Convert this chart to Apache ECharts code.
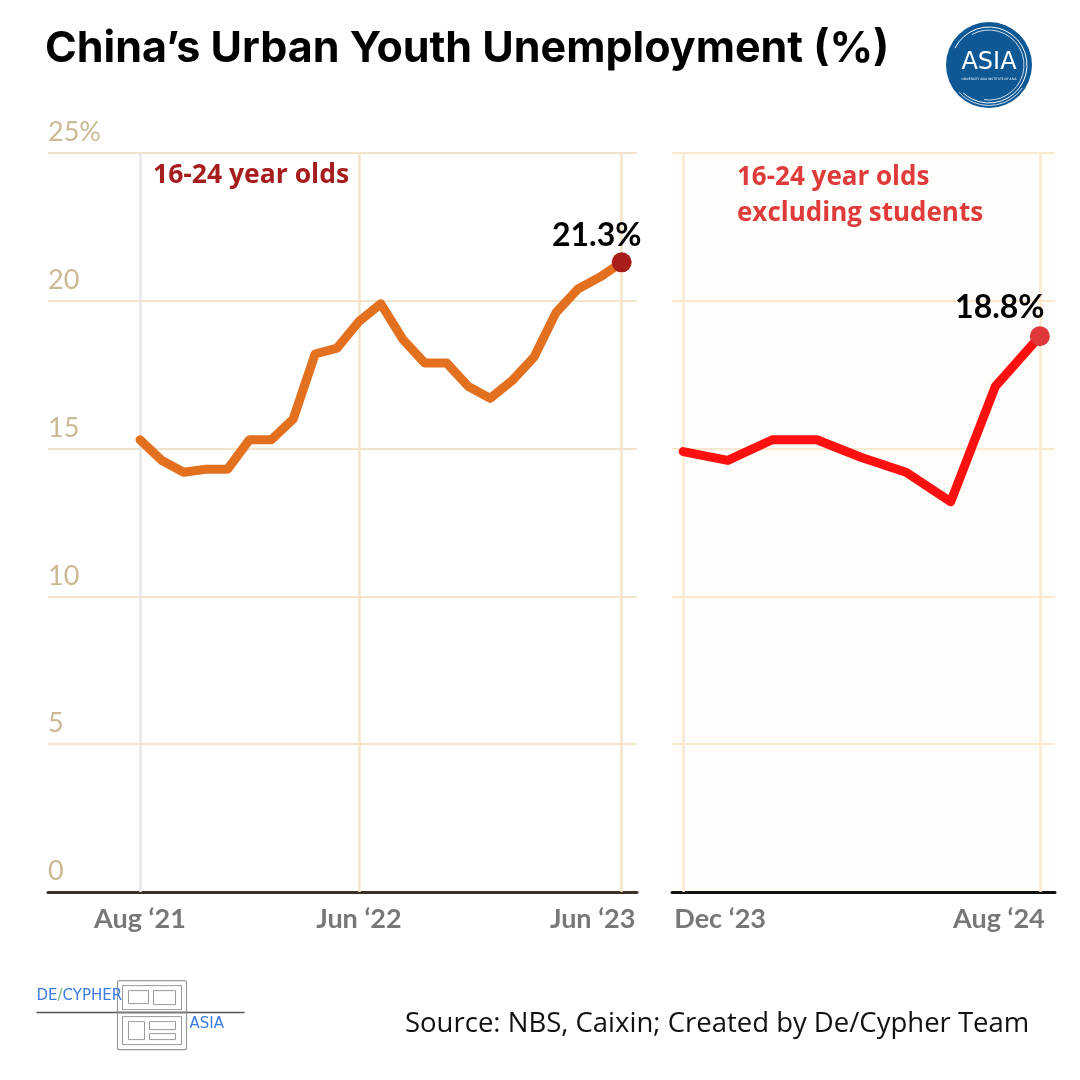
<!DOCTYPE html>
<html>
<head>
<meta charset="utf-8">
<script src="https://cdn.jsdelivr.net/npm/echarts@6/dist/echarts.min.js"></script>
<style>
    html, body { margin: 0; padding: 0; background: #fff; }
    #chart { width: 1080px; height: 1080px; }
</style>
</head>
<body>
<div id="chart"></div>
<script>
// 16-24 year olds, Aug '21 - Jun '23
var leftMonths = [
    'Aug ‘21', 'Sep ‘21', 'Oct ‘21', 'Nov ‘21', 'Dec ‘21',
    'Jan ‘22', 'Feb ‘22', 'Mar ‘22', 'Apr ‘22', 'May ‘22', 'Jun ‘22',
    'Jul ‘22', 'Aug ‘22', 'Sep ‘22', 'Oct ‘22', 'Nov ‘22', 'Dec ‘22',
    'Jan ‘23', 'Feb ‘23', 'Mar ‘23', 'Apr ‘23', 'May ‘23', 'Jun ‘23'
];
var leftValues = [
    15.3, 14.6, 14.2, 14.3, 14.3,
    15.3, 15.3, 16.0, 18.2, 18.4, 19.3,
    19.9, 18.7, 17.9, 17.9, 17.1, 16.7,
    17.3, 18.1, 19.6, 20.4, 20.8, 21.3
];
var leftTickMonths = ['Aug ‘21', 'Jun ‘22', 'Jun ‘23'];

// 16-24 year olds excluding students, Dec '23 - Aug '24
var rightMonths = [
    'Dec ‘23', 'Jan ‘24', 'Feb ‘24', 'Mar ‘24', 'Apr ‘24',
    'May ‘24', 'Jun ‘24', 'Jul ‘24', 'Aug ‘24'
];
var rightValues = [14.9, 14.6, 15.3, 15.3, 14.7, 14.2, 13.2, 17.1, 18.8];
var rightTickMonths = ['Dec ‘23', 'Aug ‘24'];

var yTicks = [0, 5, 10, 15, 20, 25];

var chart = echarts.init(document.getElementById('chart'));

var tickFont = 'Lato';
var labelRich = {
    c: { fontFamily: tickFont, fontSize: 27, fontWeight: 'bold', color: '#777777' },
    r58: { fontFamily: tickFont, fontSize: 27, fontWeight: 'bold', color: '#777777', padding: [0, 58, 0, 0] },
    l74: { fontFamily: tickFont, fontSize: 27, fontWeight: 'bold', color: '#777777', padding: [0, 0, 0, 74] },
    r82: { fontFamily: tickFont, fontSize: 27, fontWeight: 'bold', color: '#777777', padding: [0, 82, 0, 0] }
};
var labelShift = {
    'Jun ‘23': 'r58',
    'Dec ‘23': 'l74',
    'Aug ‘24': 'r82'
};

function tickLabel(months) {
    return function (v) {
        var m = months[Math.round(v)];
        return '{' + (labelShift[m] || 'c') + '|' + m + '}';
    };
}

function toPoints(values) {
    return values.map(function (v, i) {
        return [i, v];
    });
}

function lastPoint(values) {
    return [[values.length - 1, values[values.length - 1]]];
}

function getXAxis(gridIndex, months, ticks, min, max, axisColor) {
    return {
        type: 'value',
        gridIndex: gridIndex,
        min: min,
        max: max,
        axisLine: {
            show: true,
            onZero: false,
            lineStyle: { color: axisColor, width: 3 }
        },
        axisTick: { show: false },
        splitLine: { show: false },
        axisLabel: {
            show: true,
            customValues: ticks.map(function (m) { return months.indexOf(m); }),
            margin: 14,
            formatter: tickLabel(months),
            rich: labelRich
        }
    };
}

function getYAxis(gridIndex, showLabel, gridColor) {
    return {
        type: 'value',
        gridIndex: gridIndex,
        min: yTicks[0],
        max: yTicks[yTicks.length - 1],
        interval: 5,
        axisLine: { show: false },
        axisTick: { show: false },
        splitLine: {
            show: true,
            lineStyle: { color: gridColor, width: 2 }
        },
        axisLabel: {
            show: showLabel,
            inside: true,
            margin: 0,
            verticalAlign: 'bottom',
            padding: [0, 0, 7, 0],
            color: '#cbb995',
            fontSize: 27,
            fontFamily: 'Lato',
            formatter: function (v) {
                return v === 25 ? '25%' : String(v);
            }
        }
    };
}

function monthLines(months, ticks, colors, axisIndex) {
    return {
        type: 'line',
        xAxisIndex: axisIndex,
        yAxisIndex: axisIndex,
        data: [],
        z: 1,
        markLine: {
            silent: true,
            symbol: 'none',
            animation: false,
            label: { show: false },
            data: ticks.map(function (m, i) {
                return {
                    xAxis: months.indexOf(m),
                    lineStyle: { color: colors[i], width: 2.5, type: 'solid' }
                };
            })
        }
    };
}

var option = {
    backgroundColor: '#ffffff',
    animation: false,
    grid: [
        { left: 48, right: 443, top: 153, bottom: 188 },
        {
            left: 672, right: 25, top: 153, bottom: 188,
            show: true, backgroundColor: '#fffdf9', borderWidth: 0
        }
    ],
    xAxis: [
        getXAxis(0, leftMonths, leftTickMonths, -4.2, 22.7, '#3b3125'),
        getXAxis(1, rightMonths, rightTickMonths, -0.25, 8.34, '#111111')
    ],
    yAxis: [
        getYAxis(0, true, '#f2e4ca'),
        getYAxis(1, false, '#fbe9cf')
    ],
    series: [
        monthLines(leftMonths, leftTickMonths, ['#e6e6e6', '#f2e4ca', '#f2e4ca'], 0),
        monthLines(rightMonths, rightTickMonths, ['#fbe9cf', '#fbe9cf'], 1),
        {
            name: '16-24 year olds',
            type: 'line',
            xAxisIndex: 0,
            yAxisIndex: 0,
            data: toPoints(leftValues),
            showSymbol: false,
            z: 5,
            lineStyle: { color: '#e2701f', width: 9, cap: 'round', join: 'round' }
        },
        {
            type: 'scatter',
            xAxisIndex: 0,
            yAxisIndex: 0,
            data: lastPoint(leftValues),
            symbolSize: 20,
            z: 6,
            itemStyle: { color: '#a81c1a', opacity: 1 },
            label: {
                show: true,
                position: 'top',
                distance: 1,
                offset: [-25, 0],
                formatter: function (p) { return p.value[1] + '%'; },
                color: '#000000',
                fontSize: 32,
                fontWeight: 'bold',
                fontFamily: 'Lato'
            }
        },
        {
            name: '16-24 year olds excluding students',
            type: 'line',
            xAxisIndex: 1,
            yAxisIndex: 1,
            data: toPoints(rightValues),
            showSymbol: false,
            z: 5,
            lineStyle: { color: '#ff1010', width: 9, cap: 'round', join: 'round' }
        },
        {
            type: 'scatter',
            xAxisIndex: 1,
            yAxisIndex: 1,
            data: lastPoint(rightValues),
            symbolSize: 20,
            z: 6,
            itemStyle: { color: '#e0383a', opacity: 1 },
            label: {
                show: true,
                position: 'top',
                distance: 3,
                offset: [-40, 0],
                formatter: function (p) { return p.value[1] + '%'; },
                color: '#000000',
                fontSize: 32,
                fontWeight: 'bold',
                fontFamily: 'Lato'
            }
        }
    ],
    graphic: [
        {
            type: 'text',
            left: 45,
            top: 28,
            style: {
                text: 'China’s Urban Youth Unemployment (%)',
                fill: '#000000',
                font: 'bold 43px Inter'
            }
        },
        {
            type: 'text',
            left: 153,
            top: 162,
            style: {
                text: '16-24 year olds',
                fill: '#a61d1d',
                font: 'bold 26.5px "Open Sans"'
            }
        },
        {
            type: 'text',
            left: 737,
            top: 160,
            style: {
                text: '16-24 year olds\nexcluding students',
                fill: '#e03b3b',
                font: 'bold 26px "Open Sans"',
                lineHeight: 36
            }
        },
        {
            type: 'text',
            left: 405,
            top: 1010,
            style: {
                text: 'Source: NBS, Caixin; Created by De/Cypher Team',
                fill: '#111111',
                font: '27.5px "Open Sans"'
            }
        },
        // ASIA badge, top right
        {
            type: 'group',
            left: 946,
            top: 22,
            children: [
                { type: 'circle', shape: { cx: 44, cy: 44, r: 43 }, style: { fill: '#0d5895' } },
                { type: 'arc', shape: { cx: 44, cy: 44, r: 38, startAngle: 3.6, endAngle: 8.6 }, style: { stroke: '#ffffff', lineWidth: 1, fill: null } },
                { type: 'arc', shape: { cx: 44, cy: 44, r: 35, startAngle: 4.2, endAngle: 8.0 }, style: { stroke: '#ffffff', lineWidth: 0.8, fill: null } },
                { type: 'arc', shape: { cx: 44, cy: 44, r: 40.5, startAngle: 0.6, endAngle: 2.4 }, style: { stroke: '#ffffff', lineWidth: 0.8, fill: null } },
                {
                    type: 'text', x: 44, y: 42,
                    style: { text: 'ASIA', fill: '#ffffff', font: '24px "DejaVu Sans"', align: 'center', verticalAlign: 'middle' }
                },
                {
                    type: 'text', x: 44, y: 58,
                    style: { text: 'UNIVERSITY ASIA INSTITUTE OF ASIA', fill: '#ffffff', font: '3px "DejaVu Sans"', align: 'center', verticalAlign: 'middle' }
                }
            ]
        },
        // De/Cypher Asia logo, bottom left
        {
            type: 'group',
            left: 34,
            top: 980,
            children: [
                { type: 'line', shape: { x1: 0, y1: 34, x2: 208, y2: 34 }, style: { stroke: '#555555', lineWidth: 1.5 } },
                { type: 'rect', shape: { x: 81, y: 2, width: 69, height: 69, r: 2 }, style: { fill: '#ffffff', stroke: '#999999', lineWidth: 1.2 } },
                { type: 'rect', shape: { x: 86, y: 7, width: 59, height: 24 }, style: { fill: null, stroke: '#9a9a9a', lineWidth: 1 } },
                { type: 'rect', shape: { x: 92, y: 12, width: 20, height: 13 }, style: { fill: null, stroke: '#9a9a9a', lineWidth: 1 } },
                { type: 'rect', shape: { x: 117, y: 12, width: 22, height: 14 }, style: { fill: null, stroke: '#9a9a9a', lineWidth: 1 } },
                { type: 'rect', shape: { x: 86, y: 38, width: 59, height: 28 }, style: { fill: null, stroke: '#9a9a9a', lineWidth: 1 } },
                { type: 'rect', shape: { x: 92, y: 43, width: 16, height: 18 }, style: { fill: null, stroke: '#9a9a9a', lineWidth: 1 } },
                { type: 'rect', shape: { x: 113, y: 43, width: 26, height: 8 }, style: { fill: null, stroke: '#9a9a9a', lineWidth: 1 } },
                { type: 'rect', shape: { x: 113, y: 55, width: 26, height: 6 }, style: { fill: null, stroke: '#9a9a9a', lineWidth: 1 } },
                { type: 'line', shape: { x1: 81, y1: 34, x2: 150, y2: 34 }, style: { stroke: '#777777', lineWidth: 2 } },
                {
                    type: 'text', x: 0, y: 18,
                    style: {
                        text: '{b|DE}{g|/}{b|CYPHER}',
                        verticalAlign: 'middle',
                        rich: {
                            b: { fill: '#3a7be0', font: '15px "DejaVu Sans"' },
                            g: { fill: '#7ab87a', font: '15px "DejaVu Sans"' }
                        }
                    }
                },
                {
                    type: 'text', x: 153, y: 46,
                    style: { text: 'ASIA', fill: '#3a7be0', font: '15px "DejaVu Sans"', verticalAlign: 'middle' }
                }
            ]
        }
    ]
};

chart.setOption(option);
</script>
</body>
</html>
